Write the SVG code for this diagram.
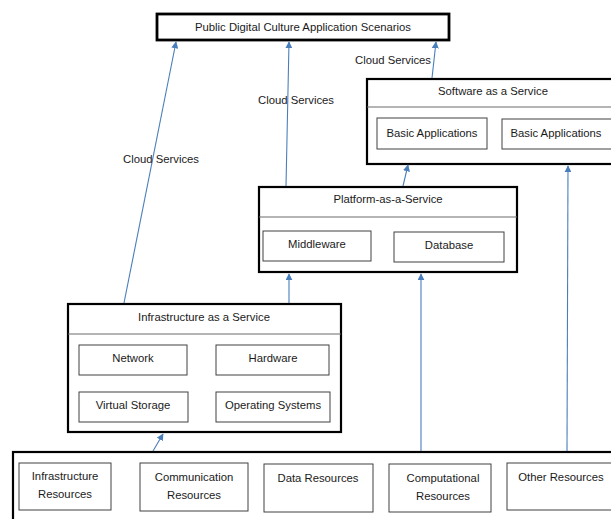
<svg xmlns="http://www.w3.org/2000/svg" width="611" height="519" viewBox="0 0 611 519">
  <defs>
    <marker id="arr" viewBox="0 0 10 10" refX="9" refY="5" markerWidth="7" markerHeight="7" markerUnits="userSpaceOnUse" orient="auto">
      <path d="M0,0 L10,5 L0,10 z" fill="#4a7ebb"/>
    </marker>
    <style>
      .outer { fill: #fff; stroke: #000; stroke-width: 2.2; }
      .top { fill: #fff; stroke: #000; stroke-width: 2.8; }
      .sep { stroke: #6b6b6b; stroke-width: 1; }
      .inner { fill: #fff; stroke: #404040; stroke-width: 1; }
      text { font-family: "Liberation Sans", Arial, sans-serif; font-size: 11.3px; fill: #1a1a1a; text-anchor: middle; }
      .conn { stroke: #4a7ebb; stroke-width: 1.1; fill: none; marker-end: url(#arr); }
      .lbl { text-anchor: start; }
    </style>
  </defs>

  <rect width="611" height="519" fill="#fff"/>

  <!-- Top: application scenarios -->
  <g id="scenarios">
    <rect class="top" x="157" y="14" width="292" height="26"/>
    <text x="303" y="31">Public Digital Culture Application Scenarios</text>
  </g>

  <!-- SaaS layer -->
  <g id="saas">
    <rect class="outer" x="367" y="79" width="250" height="85"/>
    <line class="sep" x1="367" y1="107" x2="611" y2="107"/>
    <text x="493" y="95">Software as a Service</text>
    <rect class="inner" x="377" y="118" width="110" height="31"/>
    <text x="432" y="137">Basic Applications</text>
    <rect class="inner" x="502" y="119" width="115" height="30"/>
    <text x="556" y="137">Basic Applications</text>
  </g>

  <!-- PaaS layer -->
  <g id="paas">
    <rect class="outer" x="259" y="187" width="258" height="85"/>
    <line class="sep" x1="259" y1="217" x2="517" y2="217"/>
    <text x="388" y="203">Platform-as-a-Service</text>
    <rect class="inner" x="263" y="231" width="108" height="30"/>
    <text x="317" y="248">Middleware</text>
    <rect class="inner" x="394" y="232" width="110" height="30"/>
    <text x="449" y="249">Database</text>
  </g>

  <!-- IaaS layer -->
  <g id="iaas">
    <rect class="outer" x="68" y="304" width="273" height="128"/>
    <line class="sep" x1="68" y1="334" x2="341" y2="334"/>
    <text x="204" y="321">Infrastructure as a Service</text>
    <rect class="inner" x="79" y="345" width="108" height="30"/>
    <text x="133" y="362">Network</text>
    <rect class="inner" x="216" y="345" width="113" height="30"/>
    <text x="273" y="362">Hardware</text>
    <rect class="inner" x="79" y="392" width="109" height="30"/>
    <text x="133" y="409">Virtual Storage</text>
    <rect class="inner" x="216" y="392" width="114" height="30"/>
    <text x="273" y="409">Operating Systems</text>
  </g>

  <!-- Resource layer -->
  <g id="resources">
    <rect class="outer" x="13" y="452" width="604" height="80"/>
    <rect class="inner" x="19" y="463" width="92" height="47"/>
    <text x="65" y="480">Infrastructure</text>
    <text x="65" y="498">Resources</text>
    <rect class="inner" x="140" y="463" width="108" height="48"/>
    <text x="194" y="481">Communication</text>
    <text x="194" y="499">Resources</text>
    <rect class="inner" x="264" y="464" width="109" height="48"/>
    <text x="318" y="482">Data Resources</text>
    <rect class="inner" x="389" y="464" width="102" height="48"/>
    <text x="443" y="482">Computational</text>
    <text x="443" y="500">Resources</text>
    <rect class="inner" x="507" y="463" width="110" height="47"/>
    <text x="561" y="481">Other Resources</text>
  </g>

  <!-- Connectors -->
  <g id="connectors">
    <line class="conn" x1="124" y1="303" x2="176" y2="42"/>
    <line class="conn" x1="286" y1="186" x2="289" y2="42"/>
    <line class="conn" x1="432" y1="78" x2="436" y2="42"/>
    <line class="conn" x1="403" y1="186" x2="408" y2="165"/>
    <line class="conn" x1="289" y1="303" x2="289" y2="274"/>
    <line class="conn" x1="153" y1="451" x2="163" y2="434"/>
    <line class="conn" x1="421" y1="451" x2="421" y2="274"/>
    <line class="conn" x1="567" y1="451" x2="568" y2="166"/>
    <text class="lbl" x="123" y="163">Cloud Services</text>
    <text class="lbl" x="258" y="104">Cloud Services</text>
    <text class="lbl" x="355" y="64">Cloud Services</text>
  </g>
</svg>
